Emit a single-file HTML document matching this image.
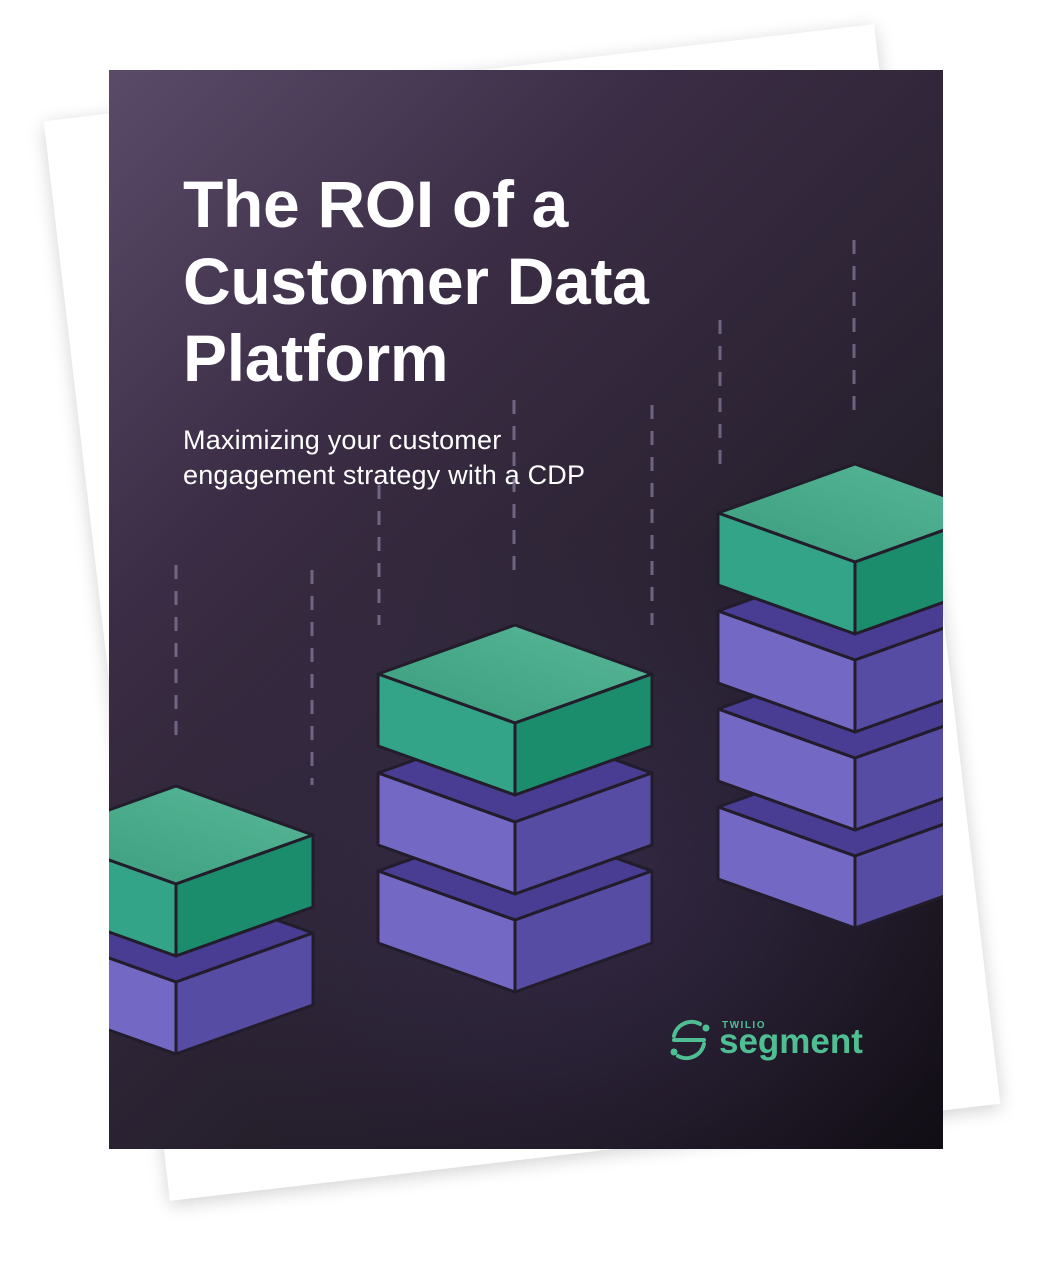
<!DOCTYPE html>
<html><head><style>
body{margin:0;width:1052px;height:1287px;background:#fff;position:relative;overflow:hidden;font-family:"Liberation Sans",sans-serif}
.sheet{position:absolute;left:104px;top:69px;width:836px;height:1087px;background:#fff;transform:rotate(-6.67deg);box-shadow:0 4px 18px rgba(0,0,0,.18)}
.cover{position:absolute;left:109px;top:70px;width:834px;height:1079px;overflow:hidden;
background:radial-gradient(ellipse 420px 360px at 470px 820px,rgba(70,55,100,.45),transparent),linear-gradient(135deg,#5a4b69 0%,#3a2c44 30%,#28212f 60%,#120e16 100%)}
h1{position:absolute;left:74px;top:96px;margin:0;color:#fff;font-size:66px;line-height:77px;font-weight:bold;letter-spacing:-0.3px}
.sub{position:absolute;left:74px;top:353px;color:#fff;font-size:27px;line-height:35px;letter-spacing:0.2px}
svg{position:absolute;left:0;top:0}
</style></head><body>
<div class="sheet"></div>
<div class="cover">
<h1>The ROI of a<br>Customer Data<br>Platform</h1>
<div class="sub">Maximizing your customer<br>engagement strategy with a CDP</div>
<svg width="834" height="1079" viewBox="109 70 834 1079">
<g stroke="#8a7fa0" stroke-width="3" stroke-dasharray="14 12" opacity=".7">
<line x1="176" y1="565" x2="176" y2="745"/><line x1="312" y1="570" x2="312" y2="785"/>
<line x1="379" y1="485" x2="379" y2="625"/><line x1="514" y1="400" x2="514" y2="580"/>
<line x1="652" y1="405" x2="652" y2="625"/><line x1="720" y1="320" x2="720" y2="465"/>
<line x1="854" y1="240" x2="854" y2="420"/></g>
<defs>
<linearGradient id="gt" x1="0" y1="1" x2="1" y2="0"><stop offset="0" stop-color="#3a9c7c"/><stop offset="1" stop-color="#58b899"/></linearGradient>
</defs>
<g id="blocks" stroke="#231c2b" stroke-width="3" stroke-linejoin="round"></g>
<g transform="translate(670,1020)" fill="none" stroke="#4fbf93" stroke-width="4" stroke-linecap="round">
<path d="M30 4 A18 18 0 0 0 4 16"/><line x1="4" y1="20" x2="34" y2="20"/><path d="M8 36 A18 18 0 0 0 34 24"/>
<circle cx="36" cy="8" r="1.5" fill="#4fbf93"/><circle cx="4" cy="32" r="1.5" fill="#4fbf93"/></g>
<text x="722" y="1028" fill="#4fbf93" font-size="10" font-weight="bold" letter-spacing="1.5" font-family="Liberation Sans">TWILIO</text>
<text x="719" y="1053" fill="#4fbf93" font-size="35" font-weight="bold" font-family="Liberation Sans">segment</text>
</svg>
</div>
<script>
var g=document.getElementById('blocks'),s='';
function blk(cx,fy,green){var w=137,d=49,h=72;
var top=green?'url(#gt)':'#483d92',L=green?'#33a487':'#7369c4',R=green?'#1b8c6c':'#574ca4';
function p(pts,f){s+='<polygon points="'+pts.map(a=>a.join(',')).join(' ')+'" fill="'+f+'"/>';}
p([[cx,fy-2*d],[cx+w,fy-d],[cx,fy],[cx-w,fy-d]],top);
p([[cx-w,fy-d],[cx,fy],[cx,fy+h],[cx-w,fy-d+h]],L);
p([[cx+w,fy-d],[cx,fy],[cx,fy+h],[cx+w,fy-d+h]],R);}
blk(176,982,0);blk(176,884,1);
blk(515,920,0);blk(515,822,0);blk(515,723,1);
blk(855,856,0);blk(855,758,0);blk(855,660,0);blk(855,562,1);
g.innerHTML=s;
</script>
</body></html>
